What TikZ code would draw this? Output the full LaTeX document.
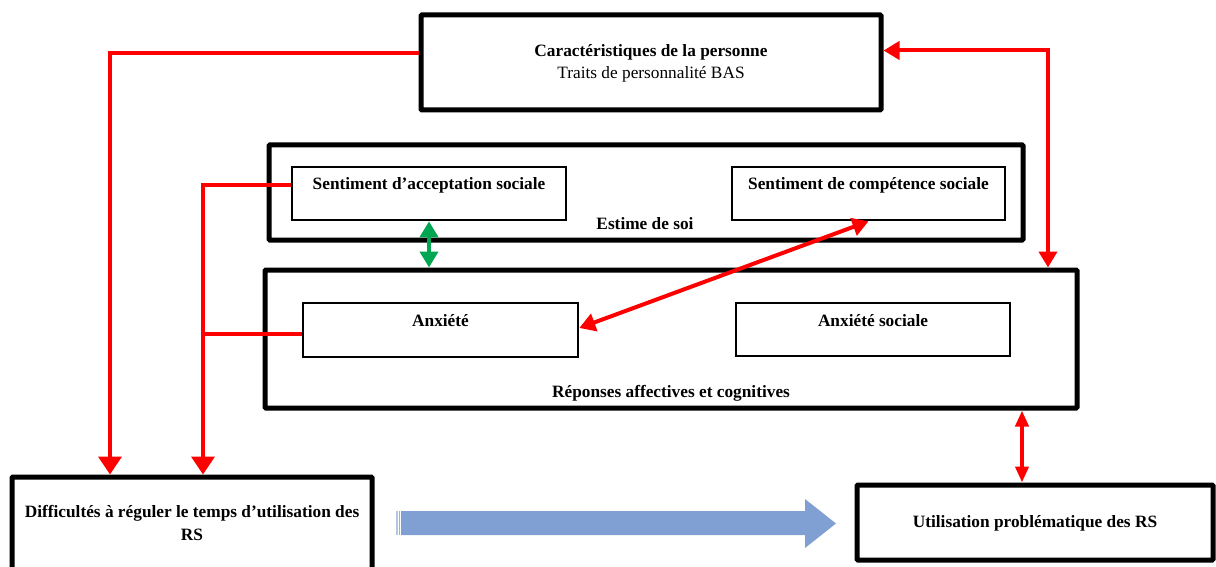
\documentclass[tikz,border=0pt]{standalone}
\usepackage{fontspec}
\setmainfont{Liberation Serif}
\usetikzlibrary{arrows.meta}
\definecolor{rsred}{RGB}{255,0,0}
\definecolor{rsgreen}{RGB}{0,166,81}
\definecolor{rsblue}{RGB}{128,160,212}
\tikzset{
  bigbox/.style={draw=black, line width=5pt, rectangle, inner sep=0pt, rounded corners=1pt},
  smallbox/.style={draw=black, line width=2.6pt, rectangle, inner sep=0pt},
  txt/.style={font=\fontsize{17.3}{19}\selectfont\bfseries, inner sep=0pt, align=center},
  txtn/.style={font=\fontsize{17.3}{19}\selectfont, inner sep=0pt, align=center},
  redline/.style={draw=rsred, line width=4pt},
  redarrow/.style={redline, -{Triangle[width=23pt,length=18pt]}},
  reddouble/.style={redline, {Triangle[width=18pt,length=16pt]}-{Triangle[width=18pt,length=16pt]}},
  redthin/.style={redline, {Triangle[width=13pt,length=16pt]}-{Triangle[width=13pt,length=16pt]}},
  greendouble/.style={draw=rsgreen, line width=4pt, {Triangle[width=18pt,length=16pt]}-{Triangle[width=18pt,length=16pt]}}
}
\begin{document}
\begin{tikzpicture}[x=1pt,y=-1pt]
\useasboundingbox (0,0) rectangle (1216,567);
\clip (0,0) rectangle (1216,567);
% boxes
\node[bigbox, minimum width=460pt, minimum height=95pt] (car) at (651,62.5) {};
\node[txt] at (651,52) {Caractéristiques de la personne};
\node[txtn] at (651,74) {Traits de personnalité BAS};

\node[bigbox, minimum width=754pt, minimum height=95pt] (est) at (646,192.5) {};
\node[smallbox, minimum width=274pt, minimum height=53pt] (acc) at (429,193.5) {};
\node[txt] at (429,185) {Sentiment d’acceptation sociale};
\node[smallbox, minimum width=273pt, minimum height=53pt] (comp) at (868.5,193.5) {};
\node[txt] at (868.5,185) {Sentiment de compétence sociale};
\node[txt] at (645,224) {Estime de soi};

\node[bigbox, minimum width=812pt, minimum height=138pt] (rep) at (671,339) {};
\node[smallbox, minimum width=275pt, minimum height=54pt] (anx) at (440.5,330) {};
\node[txt] at (440.5,321) {Anxiété};
\node[smallbox, minimum width=274pt, minimum height=53pt] (anxs) at (873,329.5) {};
\node[txt] at (873,321) {Anxiété sociale};
\node[txt] at (671,393) {Réponses affectives et cognitives};

\node[bigbox, minimum width=360pt, minimum height=110pt] (dif) at (192,532) {};
\node[txt] at (192,513) {Difficultés à réguler le temps d’utilisation des};
\node[txt] at (192,535) {RS};

\node[bigbox, minimum width=356pt, minimum height=75pt] (uti) at (1035,522.5) {};
\node[txt] at (1035,523) {Utilisation problématique des RS};

% connectors
\coordinate (x1) at (110,0);
\coordinate (x2) at (203,0);
\coordinate (x3) at (1048,0);
\coordinate (x4) at (1022,0);
\coordinate (anxw) at ([yshift=-4pt]anx.west);
\draw[redarrow] ([yshift=9pt]car.west) -| (x1 |- dif.north);
\draw[redarrow] ([yshift=8pt]acc.west) -| (x2 |- dif.north);
\draw[redline] (anxw) -- (x2 |- anxw);
\draw[reddouble] ([yshift=12pt]car.east) -| (x3 |- rep.north);
\draw[reddouble] ([yshift=2pt]anx.east) -- (comp.south);
\draw[redthin] (x4 |- rep.south) -- (x4 |- uti.north);
\draw[greendouble] (acc.south) -- (acc.south |- rep.north);

% big blue arrow
\fill[rsblue] (401,511) -- (805,511) -- (805,499) -- (836,523.5) -- (805,548) -- (805,535) -- (401,535) -- cycle;
\fill[rsblue!60] (396,511) rectangle (397.5,535);
\fill[rsblue!80] (398.5,511) rectangle (400,535);
\end{tikzpicture}
\end{document}
